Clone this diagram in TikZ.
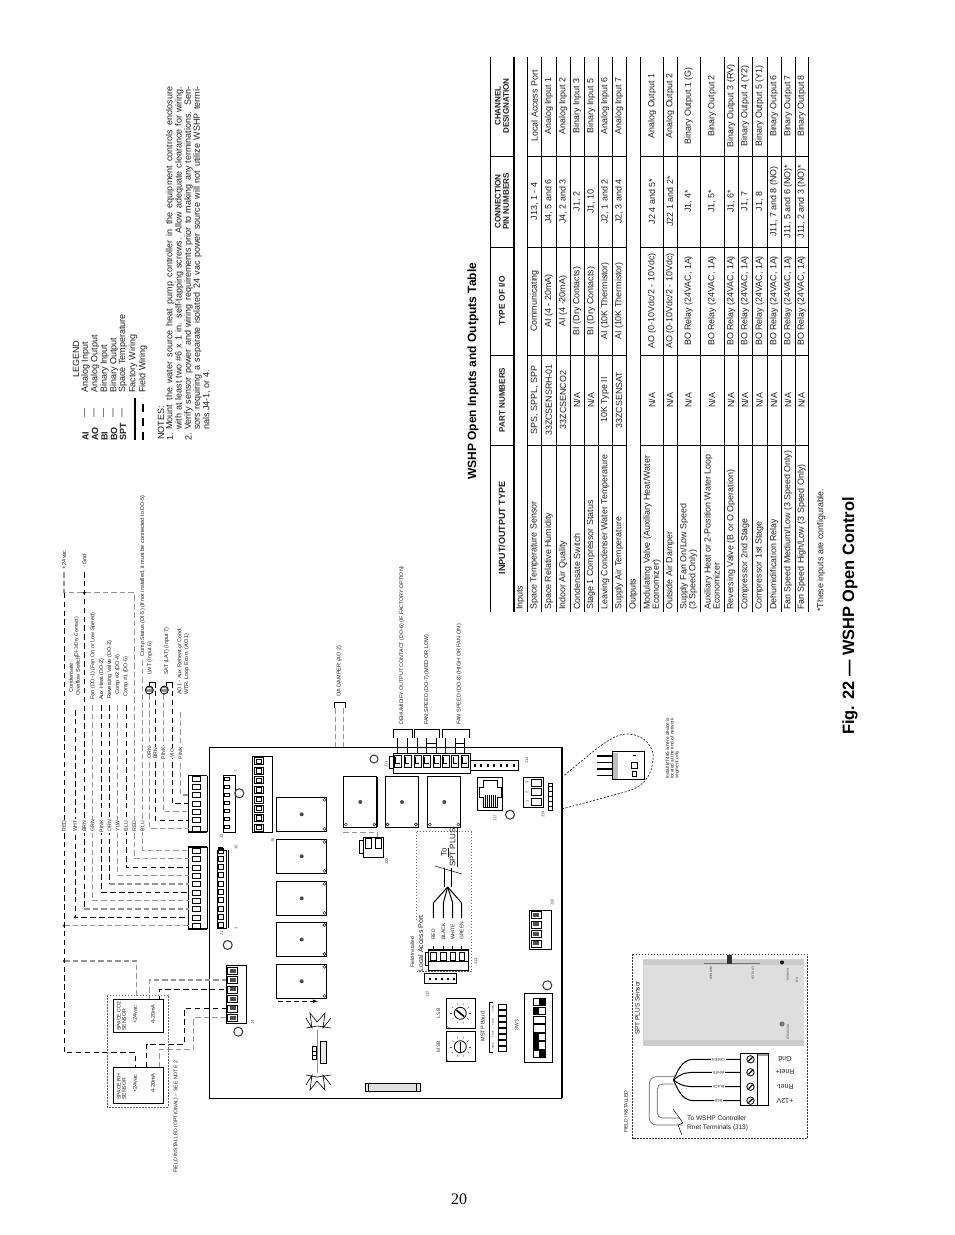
\documentclass[tikz,border=0pt]{standalone}
\usepackage{fontspec}
\setmainfont{Liberation Sans}
\newfontfamily\pagefont{Liberation Serif}
\usetikzlibrary{arrows,calc,positioning,shapes}
\newcommand{\fsize}[1]{\fontsize{#1}{#1}\selectfont}
\tikzset{%
	every node/.style={text=black!88},
	vtext/.style    = {rotate=90, inner sep=0pt, anchor=west, font=\fsize{5.5}},
	vmid/.style     = {rotate=90, inner sep=0pt, anchor=center, align=center, font=\fsize{8.9}},
	vleft/.style    = {rotate=90, inner sep=0pt, anchor=west, align=left, font=\fsize{8.9}},
	vhead/.style    = {rotate=90, inner sep=0pt, anchor=center, align=center, font=\fsize{8.1}\bfseries},
	vnote/.style    = {rotate=90, inner sep=0pt, anchor=west, font=\fsize{9}},
	tiny/.style     = {rotate=90, inner sep=0pt, anchor=center, font=\fsize{4}, text=black!75},
	wirelabel/.style= {rotate=90, inner sep=1pt, anchor=center, fill=white, font=\fsize{5.2}},
	fliplabel/.style= {rotate=180, inner sep=1pt, anchor=center, fill=white, font=\fsize{3.6}},
	thin rule/.style= {line width=0.6pt},
	wireblk/.style  = {line width=0.9pt, dash pattern=on 5.5pt off 3.4pt},
	wiregry/.style  = {line width=1.1pt, black!42, dash pattern=on 5.5pt off 3pt},
	fielddash/.style= {line width=0.7pt, black!60, dash pattern=on 1.6pt off 1.4pt},
	pinbox/.style   = {draw, line width=0.6pt, fill=white},
	block/.style    = {draw, line width=1pt, fill=white},
	mount/.style    = {circle, draw=black!80, line width=1pt, minimum size=9pt, inner sep=0pt},
	relay/.style    = {draw, line width=0.7pt, fill=white},
	spwire/.style   = {line width=1pt},
}
\begin{document}
\begin{tikzpicture}[x=1pt,y=-1pt]
	\useasboundingbox (0,0) rectangle (954,1235);

	% table rules
	\foreach \xa in {527,541.7,640.7,663,677,700,724,738,752,767,781,795}
		\draw[thin rule] (\xa,57) -- (\xa,612);
	\foreach \xa in {490,556,570,584,598,612,626,808}
		\draw[line width=1pt] (\xa,57) -- (\xa,612);
	\draw[line width=2pt] (514,57) -- (514,612);
	\foreach \ya in {156,247,355,445} {
		\draw[thin rule] (490,\ya) -- (514,\ya);
		\draw[line width=0.8pt] (527,\ya) -- (626,\ya);
		\draw[line width=0.8pt] (640.7,\ya) -- (808,\ya);
	}
	\node[vhead] (hchan) at (502,106) {CHANNEL\\DESIGNATION};
	\node[vhead] (hpin) at (502,201.5) {CONNECTION\\PIN NUMBERS};
	\node[vhead,font=\fsize{8.4}\bfseries] (htype) at (502,301) {TYPE OF I/O};
	\node[vhead] (hpart) at (502,400) {PART NUMBERS};
	\node[vhead,font=\fsize{9}\bfseries] (hio) at (502,528) {INPUT/OUTPUT TYPE};

	\node[vleft] (inputs) at (520.5,610) {Inputs};
	\node[vleft] (outputs) at (633.5,610) {Outputs};

	\foreach \xr/\tcell/\pcell/\icell/\ncell/\ccell [count=\rw] in {
		534.5/{Space Temperature Sensor}/{SPS, SPPL, SPP}/{Communicating}/{J13, 1 - 4}/{Local Access Port},
		548.7/{Space Relative Humidity}/{33ZCSENSRH-01}/{AI (4 - 20mA)}/{J4, 5 and 6}/{Analog Input 1},
		563/{Indoor Air Quality}/{33ZCSENCO2}/{AI (4 -20mA)}/{J4, 2 and 3}/{Analog Input 2},
		577/{Condensate Switch}/{N/A}/{BI (Dry Contacts)}/{J1, 2}/{Binary Input 3},
		591/{Stage 1 Compressor Status}/{N/A}/{BI (Dry Contacts)}/{J1, 10}/{Binary Input 5},
		605/{Leaving Condenser Water Temperature}/{10K Type II}/{AI (10K Thermistor)}/{J2, 1 and 2}/{Analog Input 6},
		619/{Supply Air Temperature}/{33ZCSENSAT}/{AI (10K Thermistor)}/{J2, 3 and 4}/{Analog Input 7},
		652/{Modulating Valve (Auxiliary Heat/Water\\Economizer)}/{N/A}/{AO (0-10Vdc/2 - 10Vdc)}/{J2 4 and 5*}/{Analog Output 1},
		670/{Outside Air Damper}/{N/A}/{AO (0-10Vdc/2 - 10Vdc)}/{J22 1 and 2*}/{Analog Output 2},
		688.5/{Supply Fan On/Low Speed\\(3 Speed Only)}/{N/A}/{BO Relay (24VAC, 1A)}/{J1, 4*}/{Binary Output 1 (G)},
		712/{Auxiliary Heat or 2-Position Water Loop\\Economizer}/{N/A}/{BO Relay (24VAC, 1A)}/{J1, 5*}/{Binary Output 2},
		731/{Reversing Valve (B or O Operation)}/{N/A}/{BO Relay (24VAC, 1A)}/{J1, 6*}/{Binary Output 3 (RV)},
		745/{Compressor 2nd Stage}/{N/A}/{BO Relay (24VAC, 1A)}/{J1, 7}/{Binary Output 4 (Y2)},
		759.5/{Compressor 1st Stage}/{N/A}/{BO Relay (24VAC, 1A)}/{J1, 8}/{Binary Output 5 (Y1)},
		774/{Dehumidification Relay}/{N/A}/{BO Relay (24VAC, 1A)}/{J11, 7 and 8 (NO)}/{Binary Output 6},
		788/{Fan Speed Medium/Low (3 Speed Only)}/{N/A}/{BO Relay (24VAC, 1A)}/{J11, 5 and 6 (NO)*}/{Binary Output 7},
		801.5/{Fan Speed High/Low (3 Speed Only)}/{N/A}/{BO Relay (24VAC, 1A)}/{J11, 2 and 3 (NO)*}/{Binary Output 8}} {
		\node[vleft] (ty\rw) at (\xr,610) {\tcell};
		\node[vmid] (pa\rw) at (\xr,400) {\pcell};
		\node[vmid] (io\rw) at (\xr,301) {\icell};
		\node[vmid] (pn\rw) at (\xr,201.5) {\ncell};
		\node[vmid] (ch\rw) at (\xr,106) {\ccell};
	}
	\node[vleft] (foot) at (821,612) {*These inputs are configurable.};
	\node[vnote,font=\fsize{12}\bfseries,text=black] (ttable) at (473,480) {WSHP Open Inputs and Outputs Table};
	\node[vnote,font=\fsize{16.4}\bfseries,text=black] (tfig) at (850,735) {Fig. 22 --- WSHP Open Control};
	\node[inner sep=0pt,font=\fsize{16}\pagefont,text=black] (pageno) at (459,1199) {20};

	% legend
	\node[vnote] (leg) at (76,378) {LEGEND};
	\foreach \xr/\abbr/\tx [count=\rw] in {85.5/AI/Analog Input,95/AO/Analog Output,104.5/BI/Binary Input,114/BO/Binary Output,123/SPT/Space Temperature} {
		\node[vnote,font=\fsize{9}\bfseries] (ab\rw) at (\xr,441) {\abbr};
		\node[vnote] (dash\rw) at (\xr,418) {---};
		\node[vnote] (tx\rw) at (\xr,393) {\tx};
	}
	\node[vnote] (txf) at (133,393) {Factory Wiring};
	\node[vnote] (txw) at (143,393) {Field Wiring};
	\draw[line width=1.6pt] (135,440) -- (135,398);
	\draw[line width=1.6pt,dash pattern=on 8pt off 6pt] (143,440) -- (143,398);

	% notes
	\node[vnote] (notes) at (161,440) {NOTES:};
	\node[vnote] (n1) at (170,441) {1.};
	\node[vnote] (n2) at (188.5,441) {2.};
	\foreach \xr/\ltext [count=\rw] in {
		170/{Mount the water source heat pump controller in the equipment controls enclosure},
		179.3/{with at least two \#6 x 1 in. self-tapping screws. Allow adequate clearance for wiring.},
		188.5/{Verify sensor power and wiring requirements prior to making any terminations. Sen-},
		197.5/{sors requiring a separate isolated 24 vac power source will not utilize WSHP termi-}}
		\node[vnote] (line\rw) at (\xr,430) {\makebox[343pt][s]{\ltext}};
	\node[vnote] (line5) at (206.7,430) {nals J4-1, or 4.};

	% board
	\draw[line width=0.8pt] (561.7,747) -- (209.3,747) -- (209.3,1098) -- (561.7,1098);
	\draw[line width=1.6pt] (561.7,746.6) -- (561.7,1098.4);

	% harness plugs
	\foreach \rw/\ya in {1/925.7,2/917.3,3/909,4/900.7,5/892.3,6/884,7/875.7,8/867.3,9/858.7,10/850.3}
		\coordinate (pone\rw) at (188.5,\ya);
	\foreach \rw/\ya in {1/828.3,2/820,3/811.7,4/803.3,5/795}
		\coordinate (ptwo\rw) at (188.5,\ya);
	\foreach \rw/\ya in {1/970.7,2/980,3/989.3,4/999,5/1008.3,6/1017.7}
		\coordinate (pfour\rw) at (226.7,\ya);
	\draw[line width=1.6pt] (207,847) -- (188.5,847) -- (188.5,929) -- (207,929);
	\draw[line width=0.6pt] (207,847) -- (207,929);
	\draw[line width=1.6pt] (207,775.5) -- (188.5,775.5) -- (188.5,832) -- (207,832);
	\draw[line width=0.6pt] (207,775.5) -- (207,832);
	\foreach \ya in {850.3,858.7,867.3,875.7,884,892.3,900.7,909,917.3,925.7,
		828.3,820,811.7,803.3,795,786.7,778.5}
		\draw[pinbox] (192,\ya-2.5) rectangle (200,\ya+2.5);

	% wires
	\draw[wiregry] (64,572) -- (64,592.7) -- (134.3,592.7) -- (134.3,858.7) -- (pone9);
	\draw[wireblk] (64,592.7) -- (64,1052.7) -- (135,1052.7) -- (135,1067);
	\draw[wiregry] (64,925.7) -- (pone1);
	\draw[wiregry] (64,961) -- (136.7,961) -- (136.7,999);
	\draw[wireblk] (75,710) -- (75,917.3) -- (pone2);
	\draw[wireblk] (84.3,572) -- (84.3,909);
	\draw[wiregry] (84.3,909) -- (pone3);
	\draw[wiregry] (92.7,705) |- (pone4);
	\draw[wireblk] (101.7,705) |- (pone5);
	\draw[wireblk] (109.7,705) -- (109.7,884);
	\draw[wiregry] (109.7,884) -- (pone6);
	\draw[wiregry] (117.7,705) |- (pone7);
	\draw[wireblk] (126,705) |- (pone8);
	\draw[wiregry] (142.7,660) |- (pone10);
	\draw[wiregry] (149.3,694) |- (ptwo1);
	\draw[wireblk] (155.3,682) |- (ptwo2);
	\draw[wiregry] (163.3,694) |- (ptwo3);
	\draw[wireblk] (172,682) |- (ptwo4);
	\draw[wiregry] (180.7,712) |- (ptwo5);
	\draw[line width=0.8pt] (149.3,686) -- (149.3,682) -- (155.3,682);
	\draw[line width=0.8pt] (166,686) -- (166,682) -- (172,682);
	\fill (84.3,592.7) circle (1.5pt);
	\fill (75,917.3) circle (1.2pt);
	\fill (64,925.7) circle (1.2pt);
	\fill (64,961) circle (1.2pt);
	\draw[wiregry] (149.3,1001) |- (pfour2);
	\draw[wireblk] (159.3,1001) |- (pfour3);
	\draw[wireblk] (146.7,1067) |- (184.3,1044) |- (pfour5);
	\draw[wiregry] (159.3,1067) |- (193.3,1049.3) |- (pfour6);

	% wire labels
	\foreach \xr/\lb [count=\rw] in {64/RED,75/WHT,84.3/BRN,92.7/GRN,101.7/PINK,109.7/ORN,117.7/YLW,126/BLU,134.3/RED,142.7/BLU}
		\node[wirelabel] (wl\rw) at (\xr,826) {\lb};
	\foreach \xr/\lb [count=\rw] in {149.3/ORN,155.3/BRN,163.3/PINK,172/VIO,180.7/PINK}
		\node[wirelabel] (wt\rw) at (\xr,753) {\lb};
	\node[vtext,fill=white] (plus) at (64,570) {+ 24vac};
	\node[vtext,fill=white] (gnd) at (84.3,568) {- Gnd};
	\node[vtext] (cond) at (71,693) {Condensate};
	\node[vtext] (over) at (78,696) {Overflow Switch};
	\node[vtext,font=\fsize{5}] (dry) at (76.7,658) {(DI-3/Dry Contact)};
	\node[vtext] (fan) at (93,700) {Fan (DO-1) (Fan On or Low Speed)};
	\node[vtext] (aux) at (101.7,700) {Aux Heat (DO-2)};
	\node[vtext] (rev) at (109.7,699) {Reversing Valve (DO-3)};
	\node[vtext] (comptwo) at (117.7,695) {Comp \#2 (DO-4)};
	\node[vtext] (compone) at (126,697) {Comp \#1 (DO-5)};
	\node[vtext] (status) at (142.7,656.7) {Comp Status (DI-5) (If not installed, it must be connected to DO-5)};
	\node[vtext] (lwt) at (150,675) {LWT (Input 6)};
	\node[vtext] (sat) at (166.7,675) {SAT (LAT) (Input 7)};
	\node[vtext] (aoa) at (179.5,695) {AO1 - Aux Reheat or Cond.};
	\node[vtext] (aob) at (186.7,695) {WTR. Loop Econ. (AO 1)};
	\foreach \xr [count=\rw] in {149.3,164.3} {
		\node[circle,draw,line width=0.8pt,fill=black!45,minimum size=8pt,inner sep=0pt] (therm\rw) at (\xr,690) {};
		\draw[white,line width=0.5pt] (\xr-2,688) -- (\xr+2,688) (\xr-2,692) -- (\xr+2,692);
	}

	% field sensors
	\draw[fielddash] (107.3,995) rectangle (168.3,1107);
	\draw[relay] (113.3,999.3) rectangle (163.3,1032.7);
	\draw[relay] (113.3,1067.5) rectangle (163.3,1103);
	\foreach \ya/\nm [count=\rw] in {1031/{SPACE CO2},1100/{SPACE RH}} {
		\node[vtext,align=left,font=\fsize{5.2}] (sname\rw) at (121.5,\ya) {\nm\\SENSOR};
		\node[vtext] (svac\rw) at (135,\ya-7) {+24vac};
		\node[vtext] (sma\rw) at (153,\ya-7) {4-20mA};
	}
	\node[vtext,font=\fsize{5.2}] (fieldnote) at (176,1173) {FIELD INSTALLED (OPTIONAL) -- SEE NOTE 2};

	% J1, J2, J4
	\draw[relay] (217,850) rectangle (226,928);
	\draw[line width=0.6pt] (228,850) -- (228,928);
	\foreach \ya in {851,859,867,875,884,892,900,909,917,925}
		\draw[pinbox] (218,\ya-2.5) rectangle (223,\ya+2.5);
	\fill (218,847) rectangle (223,851);
	\draw[relay] (223,775) rectangle (235,832);
	\foreach \ya in {779,787,795,803,811,819,827}
		\draw[pinbox] (224,\ya-1.5) rectangle (229,\ya+1.5);
	\node[mount] (mone) at (227.7,945) {};
	\node[mount] (mtwo) at (239.3,793.3) {};
	\node[mount] (mfour) at (238.3,1031.7) {};
	\draw[block] (226.7,965.7) rectangle (246.7,1023);
	\foreach \ya in {970.7,980,989.3,999,1008.3,1017.7} {
		\draw[pinbox] (227.5,\ya-3.5) rectangle (237.5,\ya+3.5);
		\fill[black!70] (229.5,\ya-2) rectangle (235.5,\ya+2);
	}
	\foreach \nn/\xr/\ya in {J1/221.7/933,1/236/928,10/236/847,J2/221.7/836,7/236/771,J4/252.5/1022.7,J5/272.7/840,J22/386.7/861.7,J11/386/764,J14/526.7/760.7,J17/495/818.7,J19/543/814,J20/552.3/902.7,J12/427.3/994,J13/475.7/961.7}
		\node[tiny] at (\xr,\ya) {\nn};

	% 8 pin block
	\draw[block] (252.3,756) rectangle (272.7,832.7);
	\draw[line width=1.6pt] (252.3,756) -- (252.3,832.7);
	\foreach \ya in {761,770.7,780,789.7,799.3,808.3,817.7,827.3} {
		\draw[pinbox] (254,\ya-3.5) rectangle (263,\ya+3.5);
		\draw[line width=0.5pt,fill=white] (256,\ya-2.2) rectangle (261,\ya+2.2);
	}

	% relays
	\foreach \ya in {797.3,839.3,881.3,922.5,964.3} {
		\draw[relay] (276,\ya) rectangle (326.7,\ya+34);
		\fill[black!70] (301.7,\ya+17) circle (2pt);
		\draw[line width=0.4pt] (324.5,\ya+2.5) circle (1.5pt) (324.5,\ya+31.5) circle (1.5pt);
	}
	\foreach \xa in {343.3,385,427.3} {
		\draw[relay] (\xa,776.7) rectangle (\xa+33.5,827.3);
		\fill[black!70] (\xa+17,802) circle (2pt);
		\draw[line width=0.4pt] (\xa+2.5,824.5) circle (1.5pt) (\xa+31,824.5) circle (1.5pt);
	}
	\draw[line width=1.4pt] (377.3,776.7) -- (377.3,827.3);
	\draw[line width=1.4pt] (276,964.5) -- (326.7,964.5);
	\draw[-latex,line width=0.8pt,dash pattern=on 5pt off 3pt] (278,1001.3) -- (318,1001.3);

	% J22
	\draw[wiregry,line width=0.8pt] (343,832.7) -- (377,832.7) -- (377,837);
	\draw[block] (363,837.3) rectangle (383,857.3);
	\draw[line width=1pt] (359,840) rectangle (363,853);
	\foreach \xa in {368.5,378}
		\draw[pinbox] (\xa-3,838.5) rectangle (\xa+3,848);

	% J11 and its wires
	\draw[block] (393.3,753.3) rectangle (470,773.3);
	\draw[line width=1pt] (389.5,756) rectangle (393.3,768);
	\foreach \xa in {397.7,407.3,417.3,426.7,436.7,445.3,455,464.7} {
		\draw[pinbox] (\xa-3.5,755) rectangle (\xa+3.5,767);
		\draw[line width=0.5pt] (\xa-2,757) -- (\xa-2,763) -- (\xa+2,763);
	}
	\node[mount,minimum size=8pt] (melev) at (374,759) {};
	\draw[line width=0.8pt] (397.7,753) -- (397.7,738) (407.3,753) -- (407.3,738)
		(417.3,753) -- (417.3,738) (426.7,753) -- (426.7,738) (436.7,753) -- (436.7,738)
		(445.3,753) -- (445.3,738) (455,753) -- (455,738) (464.7,753) -- (464.7,738);
	\draw[line width=0.8pt] (393.3,738) -- (393.3,729.3) -- (412.7,729.3) -- (412.7,738);
	\draw[line width=0.8pt] (414,738) -- (414,729.3) -- (439.3,729.3) -- (439.3,738);
	\draw[line width=0.8pt] (442.3,738) -- (442.3,729.3) -- (469.3,729.3) -- (469.3,738);
	\draw[line width=0.8pt] (426.7,743.3) -- (436.7,743.3) (455,743.3) -- (464.7,743.3);
	\node[vtext,font=\fsize{5.3}] (dehum) at (401.7,725) {DEHUMIDIFY OUTPUT CONTACT (DO-6) (IF FACTORY OPTION)};
	\node[vtext] (fanmed) at (426.7,725) {FAN SPEED (DO-7) (MED OR LOW)};
	\node[vtext] (fanhigh) at (459.3,725) {FAN SPEED (DO-8) (HIGH OR FAN ON )};
	\node[vtext] (oadamp) at (339.3,696.7) {OA DAMPER (AO 2)};
	\draw[line width=0.8pt] (334.5,708) -- (334.5,702.7) -- (345.7,702.7) -- (345.7,708);
	\draw[wiregry,line width=0.8pt] (335,708) -- (335,747);
	\draw[wiregry,line width=0.8pt] (343.3,708) -- (343.3,747);

	% J14, J17, J19, J20
	\draw[relay] (470,760.7) rectangle (518.3,770);
	\foreach \xa in {474,480,487,493,500,506,513}
		\fill (\xa,764) rectangle (\xa+2,767);
	\draw[relay] (477.3,777.3) rectangle (502.7,810.7);
	\draw[line width=0.6pt] (479,787) -- (483,787) -- (483,780) -- (497,780) -- (497,787) -- (501,787)
		-- (501,797) -- (497,797) -- (497,807) -- (483,807) -- (483,797) -- (479,797) -- cycle;
	\foreach \xa in {485,487,489,491,493,495}
		\draw[line width=0.4pt] (\xa,795) -- (\xa,807);
	\node[mount] (mrj) at (510,814.7) {};
	\draw[block] (523.3,777.3) rectangle (543.3,807.3);
	\foreach \ya/\nn in {782.7/3,792/2,801.3/1} {
		\draw[pinbox] (531,\ya-3.5) rectangle (541,\ya+3.5);
		\node[tiny] at (527,\ya) {\nn};
	}
	\draw[relay] (548,783) rectangle (552.7,810.7);
	\foreach \ya in {786,791,796,801,806}
		\draw[line width=0.5pt] (548,\ya) -- (552.7,\ya);
	\draw[block] (529,910) rectangle (551.7,949.3);
	\foreach \ya in {915,924.3,933.7,943.3} {
		\draw[pinbox] (531,\ya-3.5) rectangle (541,\ya+3.5);
		\fill[black!70] (533,\ya-2) rectangle (539,\ya+2);
	}
	\node[mount] (mtwenty) at (547.3,985.3) {};

	% terminator detail
	\draw[line width=0.6pt,dash pattern=on 2pt off 1.6pt] (561.7,777.3) .. controls (590,755) and (610,734) .. (626.7,734)
		.. controls (645,734) and (655,748) .. (653,760) .. controls (651,780) and (640,788) .. (625,792) -- (561.7,809);
	\draw[relay] (612,751.7) rectangle (644,779.3);
	\draw[line width=1.6pt] (596.7,755.7) -- (612,755.7) (596.7,769) -- (612,769);
	\draw[line width=0.6pt] (596.7,762.3) -- (612,762.3) (596.7,775) -- (612,775);
	\fill[black!25] (613,752.5) rectangle (618,778.5);
	\draw[line width=0.8pt] (633,755) -- (636,755) (631,762) rectangle (637,768) (632,771) rectangle (636,776);
	\node[vtext,align=left,font=\fsize{4.7}] (install) at (672.5,779) {Install BT485 where device is\\located at the end of network\\segment only.};

	% SPT plus local wiring
	\draw[fielddash] (416.7,831.7) -- (471.7,831.7) -- (471.7,971.7) -- (416.7,971.7);
	\draw[fielddash] (416.7,831.7) -- (416.7,920);
	\node[vnote,font=\fsize{8}] (tolbl) at (445,857) {\underline{To}};
	\node[vnote,font=\fsize{8}] (sptlbl) at (453.5,867) {\underline{SPT PLUS}};
	\draw[line width=0.6pt] (444.3,868) -- (444.3,887) (451,868) -- (451,887);
	\draw[line width=0.5pt] (435,866) -- (462,874);
	\foreach \xa in {433.3,443.3,452.7,461.7} {
		\draw[spwire] (447.7,887) -- (\xa,903) -- (\xa,918);
		\draw[spwire] (\xa,946) -- (\xa,952);
	}
	\foreach \xa/\nm [count=\rw] in {433.3/RED,443.3/BLACK,452.7/WHITE,461.7/GREEN}
		\node[vtext,font=\fsize{5}] (sw\rw) at (\xa,940) {\nm};
	\node[vtext,font=\fsize{5}] (fieldin) at (412.3,968) {Field Installed};
	\node[vtext,font=\fsize{7}] (localacc) at (420.7,971.7) {Local Access Port};
	\draw[block,line width=1.4pt] (428.3,950) rectangle (468.3,961.7);
	\draw[relay] (428.3,961.7) rectangle (468.3,970.5);
	\draw[line width=1pt] (425.5,952) rectangle (428.3,965);
	\foreach \xa in {433.3,443.3,452.7,461.7}
		\draw[pinbox] (\xa-2.7,952) rectangle (\xa+2.7,960);
	\draw[relay] (424.3,973) rectangle (456.7,983);
	\foreach \xa in {429,435,441,447,453}
		\fill (\xa,977.5) rectangle (\xa+1.5,979.5);

	% rotary switches and dip switches
	\foreach \ya/\an/\nm [count=\rw] in {1013.3/40/LSB,1046.7/90/MSB} {
		\draw[relay] (446,\ya-15) rectangle (475.7,\ya+15);
		\draw[line width=0.8pt] (460.3,\ya) circle (6pt);
		\draw[line width=1.6pt] (460.3,\ya) ++(\an:-5) -- ++(\an:10);
		\foreach \ang in {0,36,...,324}
			\draw[line width=0.4pt,black!70] (460.3,\ya) ++(\ang:8.5) -- ++(\ang:2);
		\draw[line width=0.4pt] (446,\ya+12) -- (449,\ya+15);
		\node[tiny,font=\fsize{5}] (rot\rw) at (438.3,\ya) {\nm};
	}
	\node[vtext,anchor=center] (mstp) at (482.7,1026.7) {MSTP Baud};
	\draw[line width=0.6pt] (492.5,1002) -- (489.3,1002) -- (489.3,1052) -- (492.5,1052);
	\foreach \ya/\bd in {1046/9600,1034/19.2K,1022/38.4K,1009/76.8K}
		\node[tiny,font=\fsize{2.6}] at (493,\ya) {\bd};
	\foreach \ya in {1004,1010,1016,1022,1028,1034,1040,1046}
		\draw[line width=0.7pt] (498.3,\ya) rectangle (506.7,\ya+5.2);
	\draw[relay] (524.3,993.3) rectangle (552.7,1062.7);
	\foreach \ya/\sw in {998/1,1007/2,1016/0,1024.5/0,1033/2,1041.5/2,1050/1} {
		\draw[line width=0.7pt] (533,\ya) rectangle (545,\ya+7.5);
		\ifnum\sw=1 \fill (539,\ya) rectangle (545,\ya+7.5); \fi
		\ifnum\sw=2 \fill (533,\ya) rectangle (539,\ya+7.5); \fi
	}
	\node[tiny,font=\fsize{5}] (swthree) at (516.7,1025) {SW3};

	% battery and fuse
	\draw[line width=0.6pt,fill=black!12] (365,1083.3) rectangle (420.7,1091.7);
	\draw[line width=1pt] (365,1083.3) -- (415,1083.3);
	\draw[line width=0.7pt] (365,1083.3) rectangle (368,1091.7) (416.7,1083.3) rectangle (420.7,1091.7);
	\draw[black!45,line width=1pt] (317.3,1030) -- (317.3,1073);
	\draw[line width=0.6pt] (312.3,1046.7) rectangle (316.7,1059.3) (312.3,1051) -- (316.7,1051) (312.3,1055) -- (316.7,1055);
	\draw[line width=0.6pt,fill=black!8] (320,1041.7) rectangle (326.7,1063.3);
	\foreach \ya/\sg in {1028/1,1075/-1} {
		\draw[line width=0.6pt] (306,\ya) -- (317,\ya-\sg*2) -- (331,\ya)
			(306,\ya-\sg*10) -- (312,\ya) -- (310,\ya-\sg*15) -- (317,\ya-\sg*6) -- (325,\ya-\sg*15) -- (323,\ya)
			-- (331,\ya-\sg*10);
	}

	% SPT plus sensor
	\draw[fielddash,black!80,line width=0.6pt] (632.7,954) rectangle (807.7,1138.3);
	\fill[black!13] (643.3,959.3) rectangle (804,1046);
	\fill[black!20] (643.3,1040) rectangle (804,1046) (643.3,959.3) rectangle (804,965);
	\draw[black!55,line width=0.5pt] (704,963) -- (760,963);
	\fill[black!80] (727,955) rectangle (732,963.5);
	\fill (782,962.5) circle (2pt);
	\fill[black!55] (782,1024) circle (2.5pt);
	\foreach \xa/\ya/\nm in {711/973/WARMER,753/973/COOLER,788/975/MANUAL,797/980/ON,788/1032/OCCUPIED}
		\node[rotate=-90,inner sep=0pt,font=\fsize{3},text=black!75] at (\xa,\ya) {\nm};
	\node[vtext,font=\fsize{6.5}] (sptname) at (637.3,1035) {SPT PLUS Sensor};
	\node[vtext,font=\fsize{5}] (sptfield) at (626,1133) {FIELD INSTALLED};
	\draw[line width=1pt,fill=white] (740,1053.3) rectangle (757.7,1105.7);
	\draw[line width=0.6pt,fill=white] (757.7,1053.3) rectangle (768,1105.7);
	\draw[black!40,line width=2pt] (757.7,1055) -- (768,1055);
	\foreach \ya/\nm/\pnm [count=\rw] in {1059.3/GREEN/Gnd,1072.3/WHITE/Rnet+,1086.7/BLACK/Rnet-,1100.7/RED/+12V} {
		\draw[line width=0.8pt] (750.5,\ya) circle (3.7pt);
		\draw[line width=1.2pt] (748.5,\ya+2) -- (752.5,\ya-2);
		\draw[spwire] (673.5,1080) .. controls (682,\ya) and (688,\ya) .. (697,\ya) -- (740,\ya)
			node[midway,fliplabel] (sl\rw) {\nm};
		\node[inner sep=0pt,rotate=180,font=\fsize{7}] (st\rw) at (785,\ya) {\pnm};
	}
	\draw[black!60,line width=0.7pt,rounded corners=7pt] (673.5,1076.7) -- (649.3,1076.7) -- (649.3,1125) -- (682,1125);
	\draw[black!60,line width=0.7pt,rounded corners=5pt] (673.5,1084) -- (657.3,1084) -- (657.3,1118) -- (680,1118);
	\draw[line width=0.5pt] (673,1109) -- (683,1123) -- (678,1125) -- (682,1135);
	\node[inner sep=0pt,anchor=west,font=\fsize{6.6}] (towshp) at (687,1117.7) {To WSHP Controller};
	\node[inner sep=0pt,anchor=west,font=\fsize{6.6}] (rnet) at (687,1127.3) {Rnet Terminals (J13)};
\end{tikzpicture}
\end{document}
